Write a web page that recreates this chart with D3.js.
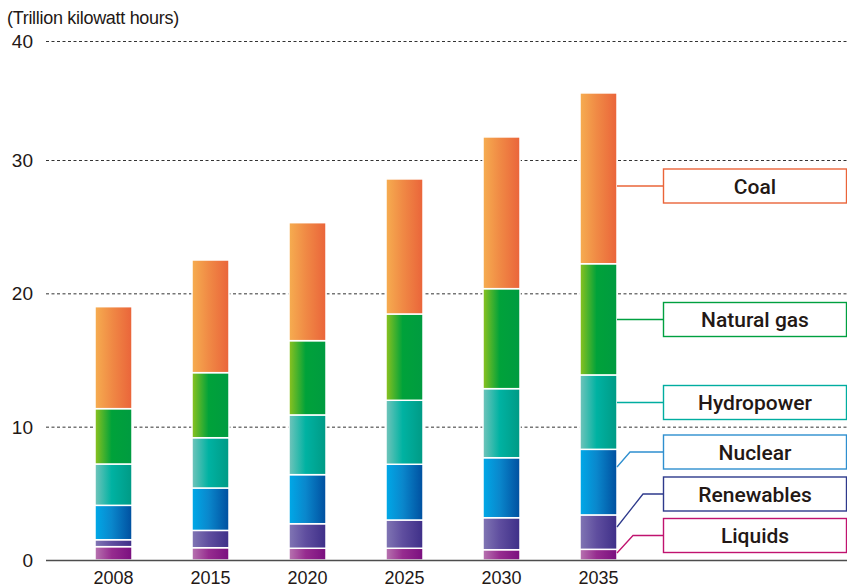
<!DOCTYPE html>
<html>
<head>
<meta charset="utf-8">
<script src="https://cdn.jsdelivr.net/npm/d3@7"></script>
<style>
  body { margin: 0; background: #fff; }
  svg { display: block; }
  .num { font-family: "Liberation Sans Narrow", "Liberation Sans", Arial, sans-serif; fill: #231815; }
  .legend-text { font-family: Roboto, "Liberation Sans", Arial, sans-serif; font-weight: 500; font-size: 21px; fill: #231815; }
</style>
</head>
<body>
<div id="chart"></div>
<script>
// data (trillion kWh)
const years = ["2008", "2015", "2020", "2025", "2030", "2035"];
const sources = ["Liquids", "Renewables", "Nuclear", "Hydropower", "Natural gas", "Coal"];
const liquids    = [1.0, 0.92, 0.88, 0.88, 0.77, 0.8];
const renewables = [0.52, 1.3, 1.84, 2.12, 2.4, 2.58];
const nuclear    = [2.58, 3.18, 3.68, 4.18, 4.5, 4.92];
const hydropower = [3.1, 3.77, 4.48, 4.8, 5.18, 5.58];
const naturalGas = [4.15, 4.88, 5.57, 6.47, 7.5, 8.34];
const coal       = [7.65, 8.45, 8.85, 10.13, 11.38, 12.81];
const yTicks = [0, 10, 20, 30, 40];

const width = 847, height = 588;

// colours: [left, middle, right] of each bar gradient, plus legend stroke
const palette = {
  "Liquids":     { stops: ["#b774b0", "#962c8f", "#7a0f7f"], line: "#c0136f" },
  "Renewables":  { stops: ["#8176b4", "#5f4e9f", "#3e2f88"], line: "#2e3a8c" },
  "Nuclear":     { stops: ["#00a9e8", "#0a87cc", "#004f9f"], line: "#2e8fcf" },
  "Hydropower":  { stops: ["#72c4bb", "#00b2a2", "#009a85"], line: "#00ada0" },
  "Natural gas": { stops: ["#8dc21f", "#00a23a", "#009b40"], line: "#00a040" },
  "Coal":        { stops: ["#f6ad50", "#f08a45", "#ea643a"], line: "#ea6439" }
};

// legend layout: box center y, leader start y, elbow x
const legendLayout = {
  "Coal":        { cy: 186,   y0: 186, ex: 617 },
  "Natural gas": { cy: 319.5, y0: 319.5, ex: 617 },
  "Hydropower":  { cy: 402.5, y0: 402.5, ex: 617 },
  "Nuclear":     { cy: 452,   y0: 467, ex: 630 },
  "Renewables":  { cy: 494,   y0: 527, ex: 643 },
  "Liquids":     { cy: 535.5, y0: 553, ex: 633 }
};

const table = years.map((yr, i) => ({
  year: yr,
  "Liquids": liquids[i],
  "Renewables": renewables[i],
  "Nuclear": nuclear[i],
  "Hydropower": hydropower[i],
  "Natural gas": naturalGas[i],
  "Coal": coal[i]
}));

const svg = d3.select("#chart").append("svg")
  .attr("width", width)
  .attr("height", height);

const defs = svg.append("defs");
sources.forEach((s, k) => {
  const g = defs.append("linearGradient")
    .attr("id", "grad" + k)
    .attr("x1", "0%").attr("x2", "100%").attr("y1", "0%").attr("y2", "0%");
  const st = palette[s].stops;
  g.append("stop").attr("offset", "0%").attr("stop-color", st[0]);
  g.append("stop").attr("offset", "45%").attr("stop-color", st[1]);
  g.append("stop").attr("offset", "100%").attr("stop-color", st[2]);
});

// scales (the original squeezes the axis above 36)
const y = d3.scaleLinear().domain([0, 36, 40]).range([560, 80, 41]);
const x = d3.scalePoint().domain(years).range([113.5, 598.5]);
const barW = 37;

// grid lines
svg.append("g").selectAll("line")
  .data(yTicks.filter(d => d > 0))
  .join("line")
  .attr("x1", 46).attr("x2", width)
  .attr("y1", d => y(d) + 0.5).attr("y2", d => y(d) + 0.5)
  .attr("stroke", "#333")
  .attr("stroke-width", 1)
  .attr("stroke-dasharray", "3,2.5");

// y axis labels
svg.append("g").selectAll("text")
  .data(yTicks)
  .join("text")
  .attr("class", "num")
  .attr("x", 33)
  .attr("y", d => y(d))
  .attr("dy", "0.36em")
  .attr("text-anchor", "end")
  .style("font-size", "19px")
  .text(d => d);

svg.append("text")
  .attr("class", "num")
  .attr("x", 7)
  .attr("y", 24)
  .style("font-size", "18px")
  .style("letter-spacing", "-0.3px")
  .text("(Trillion kilowatt hours)");

// stacked bars
const stack = d3.stack().keys(sources)(table);
const layers = svg.append("g").selectAll("g")
  .data(stack)
  .join("g")
  .attr("fill", (d, k) => `url(#grad${k})`);

layers.selectAll("rect")
  .data(d => d)
  .join("rect")
  .attr("x", d => x(d.data.year) - barW / 2)
  .attr("y", d => y(d[1]))
  .attr("width", barW)
  .attr("height", d => y(d[0]) - y(d[1]))
  .attr("stroke", "#fff")
  .attr("stroke-width", 1.5);

// baseline
svg.append("line")
  .attr("x1", 46).attr("x2", width)
  .attr("y1", y(0) + 0.5).attr("y2", y(0) + 0.5)
  .attr("stroke", "#4d4d4d")
  .attr("stroke-width", 1.5);

// x labels
svg.append("g").selectAll("text")
  .data(years)
  .join("text")
  .attr("class", "num")
  .attr("x", d => x(d))
  .attr("y", 584)
  .attr("text-anchor", "middle")
  .style("font-size", "18px")
  .text(d => d);

// legend boxes with leader lines
const boxX = 663.5, boxW = 183, boxH = 34;
const leg = svg.append("g").selectAll("g")
  .data(sources)
  .join("g");

leg.append("polyline")
  .attr("points", s => {
    const L = legendLayout[s];
    return `617,${L.y0} ${L.ex},${L.cy} ${boxX},${L.cy}`;
  })
  .attr("fill", "none")
  .attr("stroke", s => palette[s].line)
  .attr("stroke-width", 1.3);

leg.append("rect")
  .attr("x", boxX)
  .attr("y", s => legendLayout[s].cy - boxH / 2)
  .attr("width", boxW)
  .attr("height", boxH)
  .attr("fill", "#fff")
  .attr("stroke", s => palette[s].line)
  .attr("stroke-width", 1.4);

leg.append("text")
  .attr("class", "legend-text")
  .attr("x", boxX + boxW / 2)
  .attr("y", s => legendLayout[s].cy)
  .attr("dy", "0.36em")
  .attr("text-anchor", "middle")
  .text(s => s);
</script>
</body>
</html>
